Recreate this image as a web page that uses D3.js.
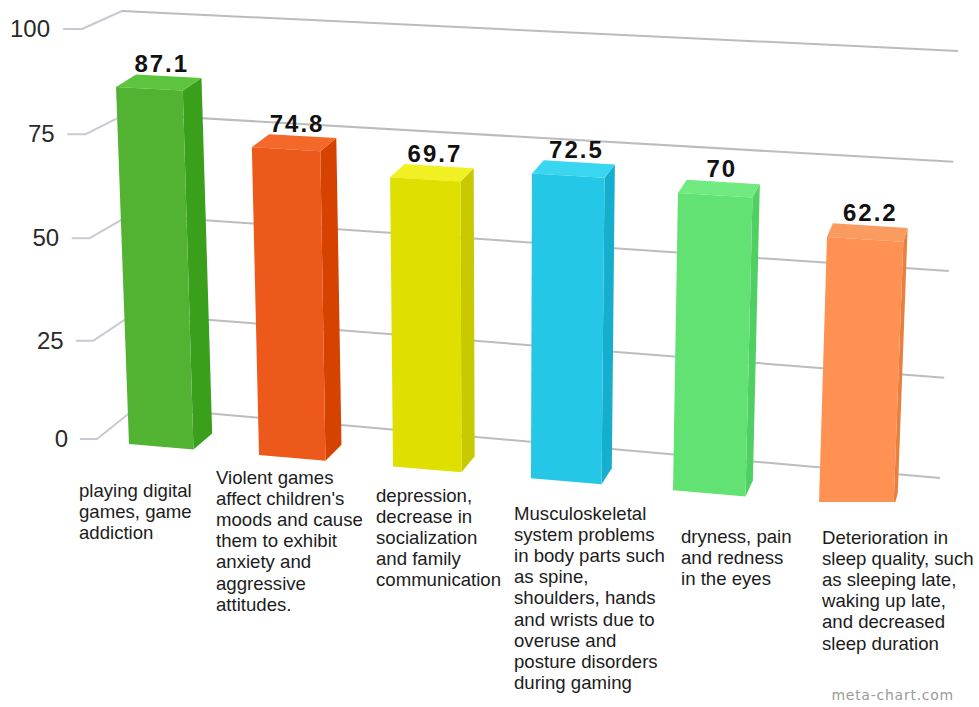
<!DOCTYPE html>
<html><head><meta charset="utf-8">
<style>html,body{margin:0;padding:0;background:#fff}svg{display:block}</style>
<script src="https://cdn.jsdelivr.net/npm/d3@7"></script></head>
<body><svg id="c" width="979" height="707"></svg>
<script>
const categories = ["playing digital games, game addiction","Violent games affect children's moods and cause them to exhibit anxiety and aggressive attitudes.","depression, decrease in socialization and family communication","Musculoskeletal system problems in body parts such as spine, shoulders, hands and wrists due to overuse and posture disorders during gaming","dryness, pain and redness in the eyes","Deterioration in sleep quality, such as sleeping late, waking up late, and decreased sleep duration"];
const values = [87.1,74.8,69.7,72.5,70,62.2];
const valueLabels = ["87.1","74.8","69.7","72.5","70","62.2"];
const tickValues = [0,25,50,75,100];
const frontColors = ["#52b333","#ec591b","#e0e000","#24c7e6","#62e273","#ff9152"];
const sideColors  = ["#3aa01c","#d64300","#c9c900","#15aecd","#50cf62","#e9803f"];
const topColors   = ["#5dc43d","#f4682a","#f0f022","#3ad6f1","#72ea82","#fa9b60"];
const labelLines = [
 ["playing digital","games, game","addiction"],
 ["Violent games","affect children's","moods and cause","them to exhibit","anxiety and","aggressive","attitudes."],
 ["depression,","decrease in","socialization","and family","communication"],
 ["Musculoskeletal","system problems","in body parts such","as spine,","shoulders, hands","and wrists due to","overuse and","posture disorders","during gaming"],
 ["dryness, pain","and redness","in the eyes"],
 ["Deterioration in","sleep quality, such","as sleeping late,","waking up late,","and decreased","sleep duration"]];
const labelX = [79,216,376,514,681,822];
const labelBaseline = [497,484,502,520,543,544];

const svg = d3.select("#c");
const FONT = '"Liberation Sans", Arial, sans-serif';

// value -> height fraction, slightly foreshortened towards the floor
const t = d3.scalePow().exponent(1.045).domain([0,100]).range([0,1]);
const tStub = d3.scalePow().exponent(1.03).domain([0,100]).range([0,1]);
// category slots (step 1, bandwidth .5)
const band = d3.scaleBand().domain(d3.range(categories.length)).range([0,5.5]).paddingInner(0.5).paddingOuter(0);
const warp = i => 129 + 128*i + 2*i*i;           // perspective along the floor
const s = d3.scaleLinear().domain([129,894]).range([0,1]);
const lerp = d3.interpolateNumber;

// front plane: x = position on floor, v = value
function front(x,v){
  const f=t(v), k=s(x);
  const base=lerp(444,509)(k), top=lerp(31.5,70)(k);
  return [x+(x-497)*0.0407*f, lerp(base,top)(f)];
}
// push back by depth
function back(x,v){
  const p=front(x,v), f=t(v);
  return [p[0]+20-0.0205*(x-129), p[1]+lerp(-16,-12)(f)];
}
// back wall
const wallL=v=>[lerp(137,122)(t(v)),lerp(407,11)(t(v))];
const wallR=v=>[lerp(940,958)(t(v)),lerp(478,51)(t(v))];
const stub=v=>[lerp(97,82)(tStub(v)),lerp(439,29)(tStub(v))];
const stubEnd=v=>[lerp(80,63)(tStub(v)),lerp(439,29)(tStub(v))];

const line=d3.line();
const grid=svg.append("g").attr("fill","none").attr("stroke-width",2).attr("stroke-linejoin","round");
grid.selectAll("path.wall").data(tickValues).join("path").attr("class","wall")
  .attr("d",v=>line([wallL(v),wallR(v)])).attr("stroke","#bcbcc0");
grid.selectAll("path.side").data(tickValues).join("path").attr("class","side")
  .attr("d",v=>line([stubEnd(v),stub(v),wallL(v)])).attr("stroke","#c6cad2");

svg.append("g").selectAll("text").data(tickValues).join("text")
  .attr("x",v=>lerp(68,50)(tStub(v))).attr("y",v=>stubEnd(v)[1]+8)
  .attr("text-anchor","end").attr("font-family",FONT).attr("font-size",24).attr("fill","#2a2a2a")
  .text(d=>d);

svg.append("defs").append("clipPath").attr("id","floorClip").append("rect")
  .attr("x",0).attr("y",0).attr("width",979).attr("height",502);

const bars=svg.append("g").attr("clip-path","url(#floorClip)").selectAll("g").data(values).join("g");
const pts=(i)=>{const a=warp(band(i)),b=warp(band(i)+band.bandwidth());return [a,b];};
bars.append("path").attr("fill",(d,i)=>sideColors[i]).attr("d",(d,i)=>{const [a,b]=pts(i);
  return line([front(b,d),back(b,d),back(b,0),front(b,0)])+"Z";});
bars.append("path").attr("fill",(d,i)=>topColors[i]).attr("d",(d,i)=>{const [a,b]=pts(i);
  return line([front(a,d),back(a,d),back(b,d),front(b,d)])+"Z";});
bars.append("path").attr("fill",(d,i)=>frontColors[i]).attr("d",(d,i)=>{const [a,b]=pts(i);
  return line([front(a,d),front(b,d),front(b,0),front(a,0)])+"Z";});

svg.append("g").selectAll("text").data(values).join("text")
  .attr("x",(d,i)=>{const [a,b]=pts(i);return (front(a,d)[0]+back(b,d)[0])/2+3;})
  .attr("y",(d,i)=>{const [a]=pts(i);return back(a,d)[1]-2.5;})
  .attr("text-anchor","middle").attr("font-family",FONT).attr("font-weight","bold")
  .attr("font-size",24).attr("letter-spacing",2).attr("fill","#111")
  .text((d,i)=>valueLabels[i]);

const lg=svg.append("g").attr("font-family",FONT).attr("font-size",18.6).attr("fill","#1c1c1c");
labelLines.forEach((ls,i)=>{
  lg.append("text").selectAll("tspan").data(ls).join("tspan")
    .attr("x",labelX[i]).attr("y",(d,j)=>labelBaseline[i]+j*21.1).text(d=>d);
});

svg.append("text").attr("x",954).attr("y",700).attr("text-anchor","end")
  .attr("font-family","'DejaVu Sans', sans-serif").attr("font-size",14).attr("letter-spacing",0.75)
  .attr("fill","#9a9a9a").text("meta-chart.com");
</script></body></html>
